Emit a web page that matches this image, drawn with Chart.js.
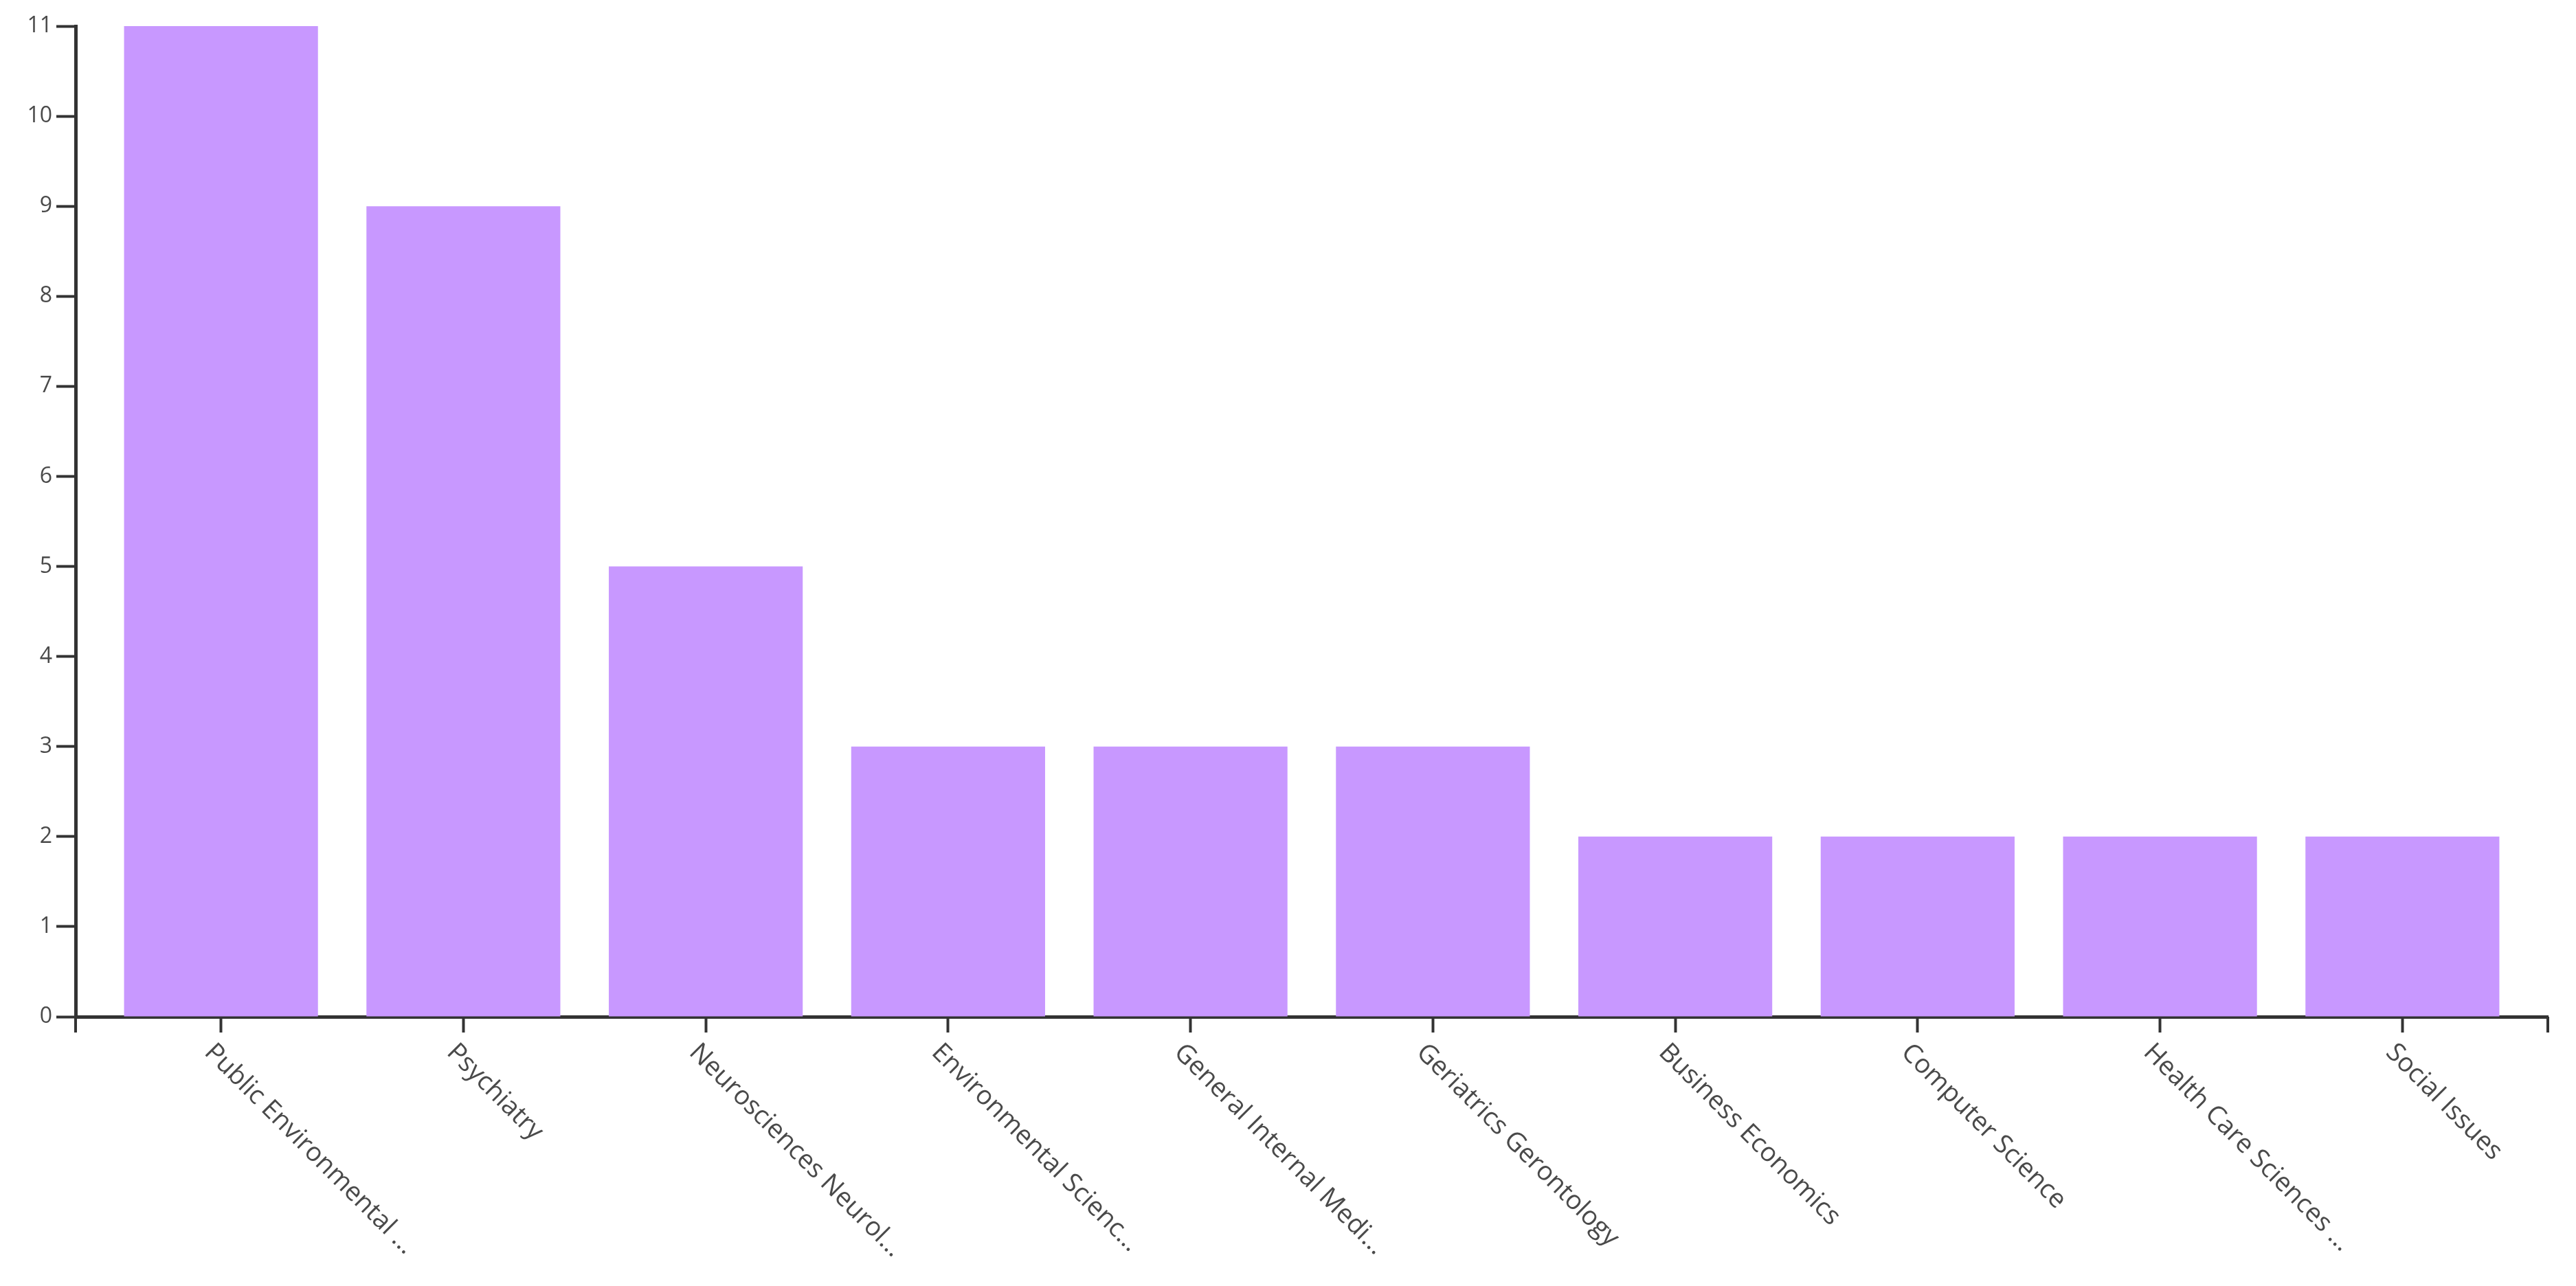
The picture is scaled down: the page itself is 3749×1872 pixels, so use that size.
<!DOCTYPE html>
<html lang="en">
<head>
    <title>Categories</title>
    <script src="https://cdn.jsdelivr.net/npm/chart.js"></script>
    <style>
        html, body {
            margin: 0;
            padding: 0;
            background: #fff;
        }
        .chart-container {
            position: relative;
            width: 3749px;
            height: 1872px;
        }
    </style>
</head>
<body>
    <div class="chart-container">
        <canvas id="categoryChart"></canvas>
    </div>

    <script>
        const categories = [
            'Public Environmental ...',
            'Psychiatry',
            'Neurosciences Neurol...',
            'Environmental Scienc...',
            'General Internal Medi...',
            'Geriatrics Gerontology',
            'Business Economics',
            'Computer Science',
            'Health Care Sciences ...',
            'Social Issues'
        ];
        const counts = [11, 9, 5, 3, 3, 3, 2, 2, 2, 2];
        const yTicks = [0, 1, 2, 3, 4, 5, 6, 7, 8, 9, 10, 11];

        const axisColor = '#333';
        const textColor = '#4a4a4a';
        const fontFamily = "'Open Sans', 'Segoe UI', Arial, sans-serif";

        // slanted labels hang down to the right of each tick, plus the outer end ticks
        const slantedLabels = {
            id: 'slantedLabels',
            afterDraw(chart) {
                const xs = chart.scales.x;
                const ctx = chart.ctx;
                ctx.save();
                ctx.strokeStyle = axisColor;
                ctx.lineWidth = 4;
                [xs.left, xs.right].forEach(x => {
                    ctx.beginPath();
                    ctx.moveTo(x, xs.top);
                    ctx.lineTo(x, xs.top + 23);
                    ctx.stroke();
                });
                ctx.font = '38px ' + fontFamily;
                ctx.fillStyle = textColor;
                ctx.textAlign = 'left';
                ctx.textBaseline = 'middle';
                categories.forEach((label, i) => {
                    const x = xs.getPixelForValue(i);
                    ctx.save();
                    ctx.translate(x - 18, xs.top + 46);
                    ctx.rotate(Math.PI / 4);
                    ctx.fillText(label, 0, 0);
                    ctx.restore();
                });
                ctx.restore();
            }
        };

        new Chart(document.getElementById('categoryChart'), {
            type: 'bar',
            data: {
                datasets: [{
                    data: counts.map((v, i) => ({ x: i, y: v })),
                    backgroundColor: '#c898ff',
                    borderWidth: 0,
                    categoryPercentage: 0.8,
                    barPercentage: 1.0
                }]
            },
            options: {
                responsive: true,
                maintainAspectRatio: false,
                animation: false,
                plugins: {
                    legend: { display: false },
                    tooltip: { enabled: false }
                },
                layout: {
                    padding: { top: 38, right: 41, left: 0, bottom: 0 }
                },
                scales: {
                    x: {
                        type: 'linear',
                        offset: false,
                        min: -0.6,
                        max: categories.length - 0.4,
                        afterBuildTicks: scale => {
                            scale.ticks = categories.map((c, i) => ({ value: i }));
                        },
                        afterFit: scale => { scale.height = 392; },
                        border: { display: true, color: axisColor, width: 5 },
                        grid: {
                            display: true,
                            offset: false,
                            drawOnChartArea: false,
                            drawTicks: true,
                            tickLength: 23,
                            tickWidth: 4,
                            tickColor: axisColor
                        },
                        ticks: {
                            autoSkip: false,
                            maxRotation: 0,
                            callback: () => ''
                        }
                    },
                    y: {
                        min: yTicks[0],
                        max: yTicks[yTicks.length - 1],
                        afterBuildTicks: scale => {
                            scale.ticks = yTicks.map(v => ({ value: v }));
                        },
                        afterFit: scale => { scale.width = 110; },
                        border: { display: true, color: axisColor, width: 5 },
                        grid: {
                            display: true,
                            drawOnChartArea: false,
                            drawTicks: true,
                            tickLength: 28,
                            tickWidth: 4,
                            tickColor: axisColor
                        },
                        ticks: {
                            padding: 6,
                            color: textColor,
                            font: { family: fontFamily, size: 32 }
                        }
                    }
                }
            },
            plugins: [slantedLabels]
        });
    </script>
</body>
</html>
